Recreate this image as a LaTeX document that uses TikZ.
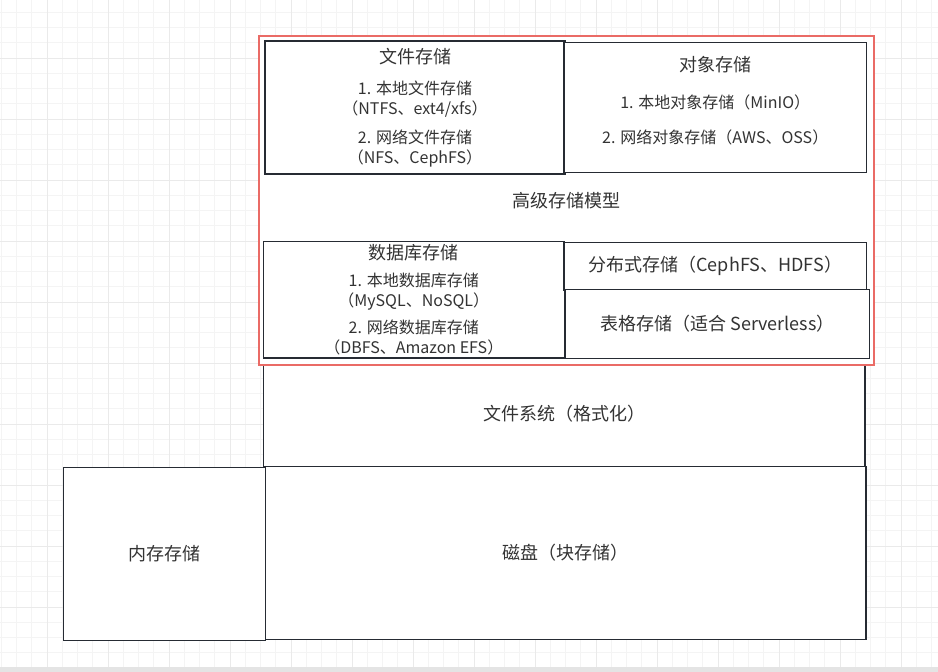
\documentclass[tikz,border=0pt]{standalone}
\usepackage{fontspec}
\setmainfont{Noto Sans CJK SC}
\definecolor{boxline}{HTML}{262B33}
\definecolor{modelred}{HTML}{EA6B66}
\definecolor{txt}{HTML}{333333}
\definecolor{gridminor}{HTML}{F4F4F4}
\definecolor{gridmajor}{HTML}{EAEAEA}
\definecolor{barcol}{HTML}{E4E4E4}
\newcommand{\titlesz}{\fontsize{18}{20}\selectfont}

\begin{document}
\begin{tikzpicture}[x=1pt, y=-1pt,
    layer/.style={draw=boxline, line width=1.3pt, fill=white, inner sep=0pt, text=txt, align=center, font=\fontsize{18}{20}\selectfont},
    listbox/.style={layer, font=\fontsize{16}{20}\selectfont}]
                \useasboundingbox (0,0) rectangle (938,672);

                % BACKGROUND GRID
                \foreach \i in {0,...,61}
                    \draw[gridminor, line width=1pt] ({1.25+15.25*\i},0) -- ({1.25+15.25*\i},672);
                \foreach \i in {0,...,43}
                    \draw[gridminor, line width=1pt] (0,{12.25+15.25*\i}) -- (938,{12.25+15.25*\i});
                \foreach \i in {0,...,15}
                    \draw[gridmajor, line width=1pt] ({47+61*\i},0) -- ({47+61*\i},672);
                \foreach \i in {0,...,10}
                    \draw[gridmajor, line width=1pt] (0,{58+61*\i}) -- (938,{58+61*\i});
                \fill[barcol] (0,667) rectangle (938,672);

                % FILE SYSTEM
                \node[layer, minimum width=601.5pt, minimum height=106.5pt] (fs) at (564.25,413.25) {文件系统（格式化）};

                % ADVANCED STORAGE MODEL
                \node[layer, draw=modelred, minimum width=615pt, minimum height=329pt] (model) at (566.5,200.5) {高级存储模型};

                \node[listbox, minimum width=300pt, minimum height=133pt] (file) at (415,107.5)
                    {{\titlesz 文件存储}\\[11pt] 1. 本地文件存储\\（NTFS、ext4/xfs）\\[9pt] 2. 网络文件存储\\（NFS、CephFS）};
                \node[listbox, minimum width=302.5pt, minimum height=130pt] (obj) at (715.25,107.25)
                    {{\titlesz 对象存储}\\[17pt] 1. 本地对象存储（MinIO）\\[15pt] 2. 网络对象存储（AWS、OSS）\\[-5pt]\mbox{}};
                \node[listbox, minimum width=301pt, minimum height=116.5pt] (db) at (413.75,299.75)
                    {{\titlesz 数据库存储}\\[7pt] 1. 本地数据库存储\\（MySQL、NoSQL）\\[7pt] 2. 网络数据库存储\\（DBFS、Amazon EFS）};
                \node[layer, minimum width=302.5pt, minimum height=47.5pt] (dist) at (715.25,266.25) {分布式存储（CephFS、HDFS）};
                \node[layer, minimum width=303.5pt, minimum height=69pt] (table) at (717.5,323.75) {表格存储（适合 Serverless）};

                % BLOCK AND MEMORY
                \node[layer, minimum width=601pt, minimum height=173pt] (disk) at (565.5,553) {磁盘（块存储）};
                \node[layer, minimum width=202pt, minimum height=173.5pt] (mem) at (164.5,554) {内存存储};

            \end{tikzpicture}
\end{document}
